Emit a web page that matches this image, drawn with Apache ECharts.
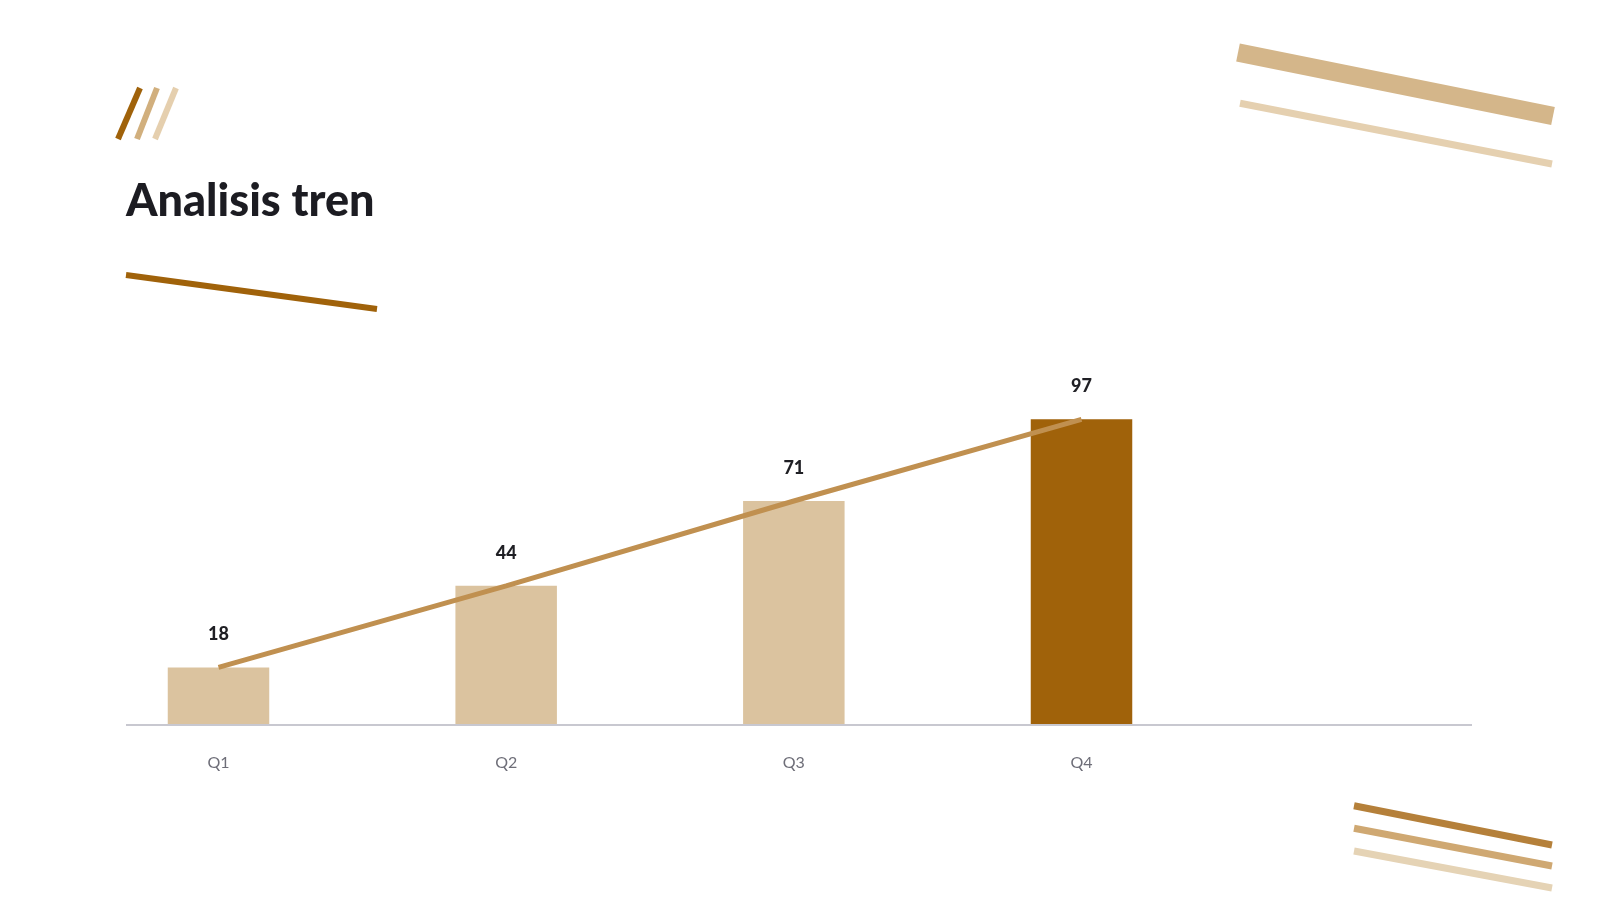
<!DOCTYPE html>
<html>
<head>
<meta charset="utf-8">
<script src="https://cdn.jsdelivr.net/npm/echarts@6/dist/echarts.min.js"></script>
<style>
html,body{margin:0;padding:0;background:#fff;}
#chart{width:1598px;height:900px;}
</style>
</head>
<body>
<div id="chart"></div>
<script>
const categories = ["Q1", "Q2", "Q3", "Q4", ""];
const barValues = [18, 44, 71, 97];
const trendValues = [18, 44, 71, 97];
const titleText = "Analisis tren";

const LIGHT = "#DBC39F";
const DARK = "#A0620A";

const chart = echarts.init(document.getElementById("chart"));

function deco(x1, y1, x2, y2, w, color) {
  return { type: "line", silent: true, shape: { x1, y1, x2, y2 },
    style: { stroke: color, lineWidth: w, lineCap: "butt" } };
}

chart.setOption({
  backgroundColor: "#ffffff",
  animation: false,
  textStyle: { fontFamily: "Lato, 'Noto Sans', sans-serif" },
  title: {
    text: titleText, left: 121, top: 174,
    textStyle: { fontFamily: "Lato", fontWeight: 900, fontSize: 45, color: "#1c1c22" }
  },
  grid: { left: 74.67, right: 85, top: 409.9, bottom: 176 },
  xAxis: {
    type: "category", data: categories,
    axisLine: { show: false }, axisTick: { show: false },
    axisLabel: { color: "#6e6e78", fontSize: 16, margin: 31, fontFamily: "Lato" },
    splitLine: { show: false }
  },
  yAxis: {
    type: "value", min: 0, max: 100, show: false, splitLine: { show: false }
  },
  series: [
    {
      type: "bar", barWidth: 101.5,
      data: barValues.map((v, i) => ({ value: v,
        itemStyle: { color: i === barValues.length - 1 ? DARK : LIGHT } })),
      label: { show: true, position: "top", distance: 24, fontSize: 18,
        fontWeight: 900, color: "#1f1f24", fontFamily: "Lato" },
      z: 2
    },
    {
      type: "line", data: trendValues, symbol: "none", smooth: false,
      lineStyle: { color: "#C09050", width: 5 }, z: 3
    }
  ],
  graphic: [
    deco(126, 725, 1472, 725, 2, "#C8C8D0"),
    deco(140, 88, 118, 139, 6, "#A0620A"),
    deco(157, 88, 137, 139, 6, "#D1AF7D"),
    deco(176, 88, 155, 139, 6, "#E5CFAE"),
    deco(126, 275, 377, 309, 6, "#A0620A"),
    deco(1238, 52.5, 1553, 116, 18.5, "#D4B68A"),
    deco(1240, 103.3, 1552, 164, 7, "#E5D0B0"),
    deco(1354, 805.7, 1552, 845, 7, "#B5803A"),
    deco(1354, 828.3, 1552, 866, 7, "#CFA872"),
    deco(1354, 851, 1552, 888, 7, "#E5D3B5")
  ]
});
</script>
</body>
</html>
